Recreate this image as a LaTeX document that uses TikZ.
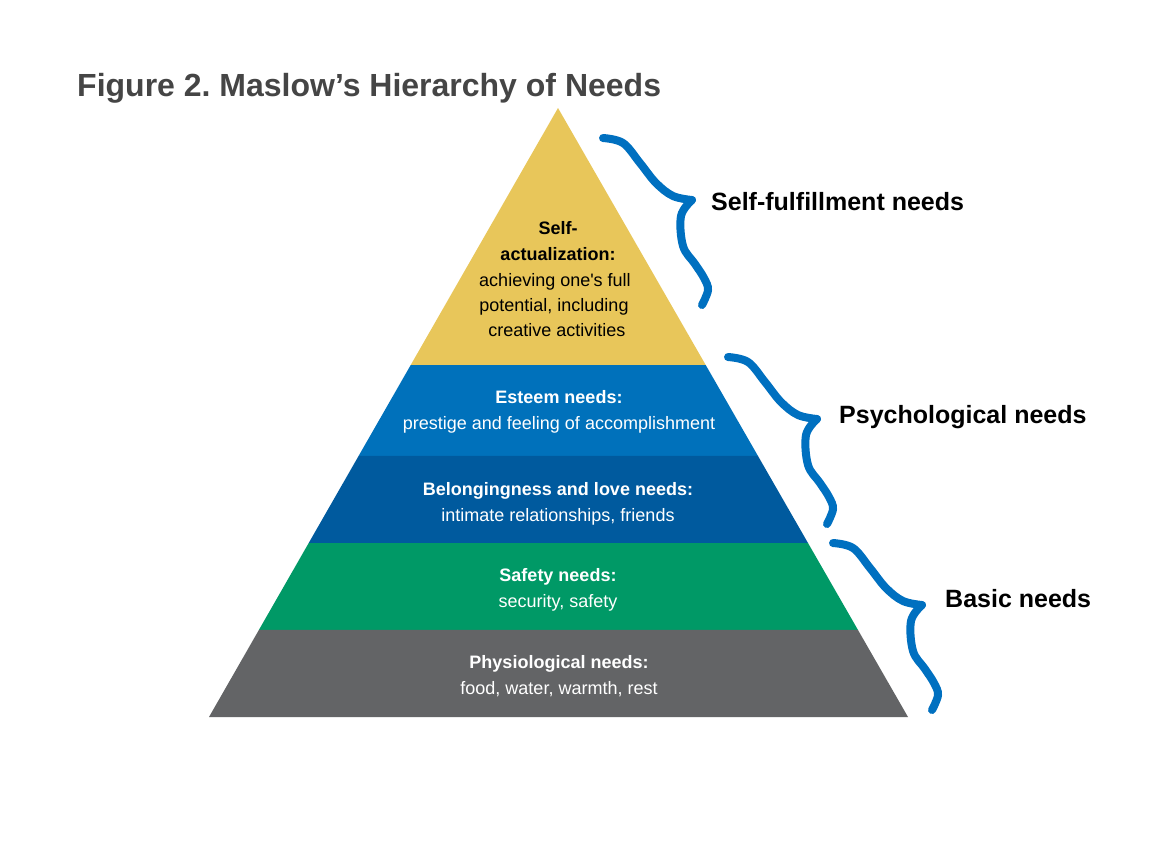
\documentclass[tikz,border=0pt]{standalone}
\usepackage{fontspec}
\setmainfont{Liberation Sans}[Ligatures=TeXOff]
\usetikzlibrary{calc}
\definecolor{cyellow}{HTML}{E8C65A}
\definecolor{cesteem}{HTML}{0071BB}
\definecolor{cbelong}{HTML}{005A9E}
\definecolor{csafety}{HTML}{009966}
\definecolor{cphys}{HTML}{636466}
\definecolor{cbrace}{HTML}{0070C0}
\definecolor{ctitle}{HTML}{454545}
\tikzset{
  lbl/.style={anchor=base,inner sep=0pt,font=\fontsize{18}{21}\selectfont},
  lblb/.style={lbl,font=\fontsize{18}{21}\selectfont\bfseries},
  side/.style={anchor=base west,inner sep=0pt,font=\fontsize{25}{29}\selectfont\bfseries,text=black},
  bracestroke/.style={draw=cbrace,line width=8pt,line cap=round,line join=miter},
  brace/.pic={
    \draw[bracestroke] plot[smooth,tension=0.6] coordinates {(0,0) (20,5) (37,25) (53,45) (70,58) (89,62)};
    \draw[bracestroke] plot[smooth,tension=0.6] coordinates {(89,62) (78,78) (80,108) (92,126) (101,140) (105,152) (99,167)};
  }
}
\begin{document}
\frenchspacing
\begin{tikzpicture}[x=1pt,y=-1pt]
\useasboundingbox (0,0) rectangle (1151,844);
\fill[white] (0,0) rectangle (1151,844);
% title
\node[anchor=base west,inner sep=0pt,text=ctitle,font=\fontsize{32}{38}\selectfont\bfseries] (title) at (77,96) {Figure 2. Maslow’s Hierarchy of Needs};
% pyramid
\coordinate (A) at (558,108);
\coordinate (BL) at (209,717);
\coordinate (BR) at (908,717);
\coordinate (L1) at ($(A)!0.4220!(BL)$); \coordinate (R1) at ($(A)!0.4220!(BR)$);
\coordinate (L2) at ($(A)!0.5714!(BL)$); \coordinate (R2) at ($(A)!0.5714!(BR)$);
\coordinate (L3) at ($(A)!0.7143!(BL)$); \coordinate (R3) at ($(A)!0.7143!(BR)$);
\coordinate (L4) at ($(A)!0.8571!(BL)$); \coordinate (R4) at ($(A)!0.8571!(BR)$);
\fill[cyellow] (A) -- (R1) -- (L1) -- cycle;
\fill[cesteem] (L1) -- (R1) -- (R2) -- (L2) -- cycle;
\fill[cbelong] (L2) -- (R2) -- (R3) -- (L3) -- cycle;
\fill[csafety] (L3) -- (R3) -- (R4) -- (L4) -- cycle;
\fill[cphys] (L4) -- (R4) -- (BR) -- (BL) -- cycle;
% texts
\node[lblb,text=black] (sa1) at (558,234) {Self-};
\node[lblb,text=black] (sa2) at (558,260) {actualization:};
\node[lbl,text=black] (sa3) at (555,286) {achieving one's full};
\node[lbl,text=black] (sa4) at (554,311) {potential, including};
\node[lbl,text=black] (sa5) at (557,336) {creative activities};
\node[lblb,text=white] (es1) at (559,403) {Esteem needs:};
\node[lbl,text=white] (es2) at (559,429) {prestige and feeling of accomplishment};
\node[lblb,text=white] (bl1) at (558,495) {Belongingness and love needs:};
\node[lbl,text=white] (bl2) at (558,521) {intimate relationships, friends};
\node[lblb,text=white] (sf1) at (558,581) {Safety needs:};
\node[lbl,text=white] (sf2) at (558,607) {security, safety};
\node[lblb,text=white] (ph1) at (559,668) {Physiological needs:};
\node[lbl,text=white] (ph2) at (559,694) {food, water, warmth, rest};
% braces
\pic at (603,138) {brace};
\pic at (728,357) {brace};
\pic at (833,543) {brace};
% side labels
\node[side] (self) at (711,210) {Self-fulfillment needs};
\node[side] (psy) at (839,423) {Psychological needs};
\node[side] (basic) at (945,607) {Basic needs};
\end{tikzpicture}
\end{document}
